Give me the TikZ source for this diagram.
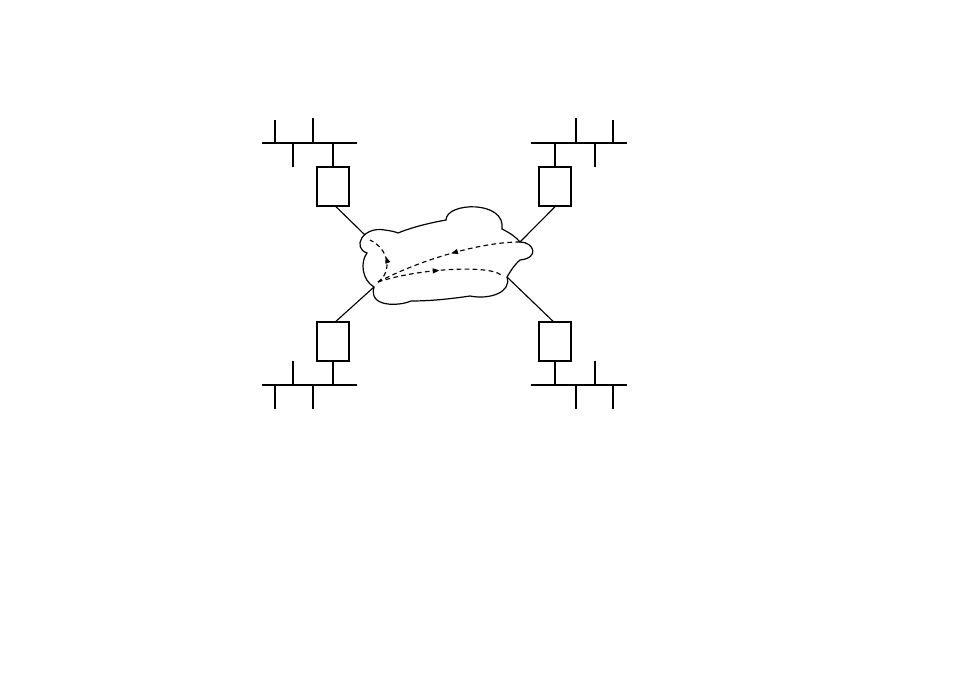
\documentclass[tikz,border=0pt]{standalone}
\usetikzlibrary{arrows.meta,decorations.markings}
\begin{document}
\begin{tikzpicture}[x=0.75pt,y=-0.75pt,
  bus/.style={line width=1pt},
  tickthin/.style={line width=0.8pt},
  tickthick/.style={line width=1.6pt},
  router/.style={draw,line width=1.1pt,minimum width=24pt,minimum height=29.25pt,inner sep=0pt},
  link/.style={line width=0.85pt},
  cloudline/.style={line width=0.9pt},
  flow/.style={line width=0.85pt,dash pattern=on 3.5pt off 2.5pt,
    decoration={markings,mark=at position #1 with {\arrow{Triangle[length=5pt,width=3.8pt]}}},
    postaction={decorate}}
]
\useasboundingbox (0,0) rectangle (954,675);

% cloud
\draw[cloudline] (398,233) .. controls (415,226) and (435,222) .. (446,220)
  .. controls (446,202) and (506,200) .. (502,229)
  .. controls (510,233) and (516,237) .. (520,242)
  .. controls (534,242) and (540,258) .. (520,260)
  .. controls (514,265) and (510,272) .. (507,277)
  .. controls (512,292) and (490,300) .. (470,296)
  .. controls (450,299) and (430,301) .. (411,301)
  .. controls (400,306) and (368,308) .. (374,287)
  .. controls (362,280) and (360,262) .. (367,253)
  .. controls (352,248) and (362,226) .. (385,230)
  .. controls (392,231) and (396,232) .. (398,233) -- cycle;

\coordinate (cTL) at (365,235);
\coordinate (cTR) at (520,242);
\coordinate (cBL) at (374,287);
\coordinate (cBR) at (507,277);
\coordinate (S) at (378,282);
\coordinate (A) at (370,240);
\coordinate (C) at (501,275);

% routers
\node[router] (tl) at (333,186.5) {};
\node[router] (tr) at (555,186.5) {};
\node[router] (bl) at (333,341.5) {};
\node[router] (br) at (555,341.5) {};

% links router - cloud
\draw[link] ([xshift=2.25pt]tl.south) -- (cTL);
\draw[link] (tr.south) -- (cTR);
\draw[link] ([xshift=2.25pt]bl.north) -- (cBL);
\draw[link] ([xshift=-1.5pt]br.north) -- (cBR);

% top-left LAN
\draw[bus] (262,143) -- (357,143);
\draw[tickthin] (275,120) -- (275,143);
\draw[tickthin] (293,143) -- (293,167);
\draw[tickthick] (313,118) -- (313,143);
\coordinate (btl) at (333,143);
\draw[tickthick] (btl) -- (tl.north);

% top-right LAN
\draw[bus] (531,143) -- (627,143);
\coordinate (btr) at (555,143);
\draw[tickthick] (btr) -- (tr.north);
\draw[tickthick] (576,118) -- (576,143);
\draw[tickthick] (595,143) -- (595,167);
\draw[tickthin] (613,120) -- (613,143);

% bottom-left LAN
\draw[bus] (262,385) -- (357,385);
\draw[tickthin] (293,361) -- (293,385);
\draw[tickthin] (275,385) -- (275,409);
\draw[tickthick] (313,385) -- (313,409);
\coordinate (bbl) at (333,385);
\draw[tickthick] (bl.south) -- (bbl);

% bottom-right LAN
\draw[bus] (531,385) -- (627,385);
\coordinate (bbr) at (555,385);
\draw[tickthick] (br.south) -- (bbr);
\draw[tickthick] (576,385) -- (576,409);
\draw[tickthick] (595,361) -- (595,385);
\draw[tickthin] (613,385) -- (613,409);

% dashed flows
\draw[flow=0.55] (S) .. controls (392,272) and (390,250) .. (A);
\draw[flow=0.47] (cTR) .. controls (480,242) and (420,260) .. (S);
\draw[flow=0.5] (S) .. controls (420,268) and (490,265) .. (C);
\end{tikzpicture}
\end{document}
